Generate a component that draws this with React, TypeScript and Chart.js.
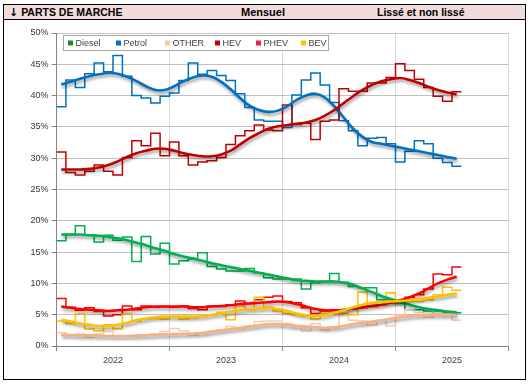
import React, { useEffect, useRef } from 'react';
import { Chart, registerables } from 'chart.js';

Chart.register(...registerables);

// ---- data (monthly, Jan 2022 .. Jul 2025) ----
const yearLabels = ['2022', '2023', '2024', '2025'];
const seriesNames = ['Diesel', 'Petrol', 'OTHER', 'HEV', 'PHEV', 'BEV'];

const dieselRaw = [16.8, 17.8, 19.2, 17.7, 16.6, 17.7, 16.9, 17.4, 13.5, 17.5, 14.7, 16.4, 13.1, 13.6, 13.9, 14.9, 12.7, 12.3, 12.0, 12.0, 12.4, 11.7, 10.9, 10.7, 10.7, 10.7, 9.1, 10.1, 10.3, 11.6, 10.2, 9.5, 9.3, 9.3, 7.4, 7.4, 6.9, 5.8, 5.8, 5.6, 5.6, 5.4, 5.3];
const dieselSmooth = [17.8, 17.8, 17.8, 17.7, 17.6, 17.4, 17.2, 16.9, 16.5, 16.1, 15.6, 15.2, 14.7, 14.3, 14.0, 13.6, 13.2, 12.9, 12.6, 12.3, 12.0, 11.7, 11.4, 11.1, 10.8, 10.5, 10.4, 10.3, 10.3, 10.3, 10.1, 9.8, 9.2, 8.6, 8.0, 7.5, 7.0, 6.6, 6.2, 5.9, 5.7, 5.5, 5.4];

const petrolRaw = [38.2, 42.5, 41.3, 43.5, 45.2, 43.8, 46.4, 43.1, 40.0, 39.6, 38.8, 39.9, 40.4, 42.4, 45.2, 43.4, 44.0, 43.2, 42.4, 40.3, 38.1, 36.1, 35.9, 35.9, 34.9, 40.1, 42.5, 43.6, 41.7, 38.9, 36.0, 34.4, 32.0, 33.2, 33.3, 32.3, 29.4, 31.1, 32.8, 32.3, 30.0, 29.3, 28.7];
const petrolSmooth = [41.8, 42.2, 42.7, 43.1, 43.4, 43.6, 43.5, 43.0, 42.3, 41.5, 40.9, 40.9, 41.5, 42.3, 42.9, 43.2, 43.0, 42.2, 41.0, 39.6, 38.4, 37.7, 37.4, 37.6, 38.3, 39.3, 40.0, 40.3, 39.7, 38.3, 36.5, 34.7, 33.4, 32.6, 32.3, 32.0, 31.7, 31.4, 31.1, 30.8, 30.5, 30.2, 29.9];

const otherRaw = [2.1, 1.8, 1.9, 1.4, 1.9, 2.3, 1.6, 1.6, 1.6, 1.8, 1.9, 2.3, 2.8, 2.4, 1.7, 2.0, 2.3, 2.6, 3.1, 2.8, 3.2, 3.9, 4.0, 4.0, 3.6, 3.3, 2.4, 3.6, 2.6, 2.9, 4.8, 4.1, 4.0, 3.3, 4.1, 3.2, 4.9, 5.8, 5.3, 4.6, 5.8, 5.1, 4.1];
const otherSmooth = [1.8, 1.75, 1.7, 1.7, 1.65, 1.6, 1.6, 1.6, 1.65, 1.7, 1.8, 1.85, 1.9, 1.95, 2.0, 2.1, 2.3, 2.5, 2.7, 2.9, 3.1, 3.3, 3.5, 3.5, 3.4, 3.2, 3.1, 3.0, 2.9, 3.0, 3.2, 3.5, 3.7, 3.9, 4.1, 4.4, 4.6, 4.8, 4.9, 5.0, 5.0, 5.0, 4.9];

const hevRaw = [31.0, 27.7, 27.3, 27.9, 28.9, 27.9, 27.3, 30.1, 32.8, 32.0, 34.0, 30.4, 32.6, 30.4, 28.9, 29.4, 29.6, 30.1, 32.2, 33.6, 34.4, 35.3, 34.5, 34.4, 38.5, 35.4, 35.6, 33.0, 35.9, 36.1, 41.1, 40.7, 40.7, 42.0, 42.0, 42.9, 45.1, 44.0, 42.6, 41.3, 39.9, 39.1, 40.6];
const hevSmooth = [28.2, 28.2, 28.2, 28.3, 28.5, 28.9, 29.5, 30.2, 30.8, 31.2, 31.5, 31.5, 31.2, 30.8, 30.5, 30.3, 30.3, 30.6, 31.2, 32.2, 33.2, 34.0, 34.7, 35.1, 35.3, 35.5, 35.7, 36.1, 36.8, 37.7, 38.8, 39.9, 40.9, 41.7, 42.3, 42.6, 42.8, 42.5, 42.0, 41.4, 40.9, 40.5, 40.2];

const phevRaw = [7.6, 6.2, 5.7, 6.1, 5.5, 4.8, 5.0, 6.4, 5.8, 6.4, 6.2, 6.3, 6.2, 6.4, 6.0, 5.8, 6.4, 6.3, 6.6, 7.2, 6.8, 7.4, 7.8, 8.0, 7.1, 6.9, 6.1, 5.2, 5.6, 5.8, 5.8, 5.9, 6.1, 6.2, 6.6, 6.9, 7.0, 7.8, 8.2, 9.1, 11.5, 11.4, 12.6];
const phevSmooth = [6.3, 6.1, 5.9, 5.8, 5.7, 5.6, 5.7, 5.8, 6.0, 6.2, 6.3, 6.3, 6.3, 6.3, 6.2, 6.2, 6.3, 6.4, 6.5, 6.7, 6.8, 6.9, 7.0, 7.1, 7.0, 6.7, 6.3, 5.9, 5.7, 5.7, 5.8, 6.0, 6.2, 6.4, 6.6, 6.9, 7.3, 7.8, 8.4, 9.2, 10.0, 10.6, 11.1];

const bevRaw = [4.0, 3.6, 5.1, 2.7, 2.4, 3.4, 2.7, 5.1, 4.0, 4.3, 4.4, 4.3, 4.7, 4.3, 4.5, 4.7, 4.9, 5.4, 4.2, 6.4, 5.8, 7.8, 6.2, 5.6, 5.2, 5.0, 4.8, 4.3, 5.2, 5.3, 5.2, 5.0, 8.6, 6.2, 7.0, 8.5, 7.1, 7.1, 7.1, 7.4, 8.2, 9.4, 8.9];
const bevSmooth = [4.2, 3.9, 3.6, 3.4, 3.2, 3.2, 3.4, 3.7, 4.1, 4.4, 4.6, 4.7, 4.7, 4.7, 4.7, 4.8, 5.0, 5.2, 5.5, 5.7, 5.9, 6.0, 6.1, 5.9, 5.6, 5.2, 4.9, 4.8, 4.9, 5.3, 5.7, 6.2, 6.6, 6.9, 7.0, 7.1, 7.2, 7.3, 7.5, 7.7, 7.9, 8.2, 8.4];

const rawSeries = [dieselRaw, petrolRaw, otherRaw, hevRaw, phevRaw, bevRaw];
const smoothSeries = [dieselSmooth, petrolSmooth, otherSmooth, hevSmooth, phevSmooth, bevSmooth];

// ---- styles ----
const stepColors = ['#00B050', '#0070C0', '#F8CBAD', '#C00000', '#FF0000', '#FFC000'];
const smoothColors = ['#00B050', '#0070C0', '#F4B183', '#C00000', '#FF0000', '#FFC000'];
const legendColors = ['#1E8B24', '#0070C0', '#FBC9A8', '#C00000', '#FF1A4B', '#FFC000'];
const legendX = [68, 116, 165, 215, 256, 301];
const FONT = '"Liberation Sans", Arial, sans-serif';

const stepPoints = (vals: number[]) => [
  ...vals.map((v, i) => ({ x: i, y: v })),
  { x: vals.length, y: vals[vals.length - 1] },
];
const smoothPoints = (vals: number[]) => vals.map((v, i) => ({ x: i + 0.5, y: v }));

const shadowPlugin = {
  id: 'smoothShadow',
  beforeDatasetDraw(chart: any, args: any) {
    const ds = chart.data.datasets[args.index];
    if (ds._smooth) {
      const ctx = chart.ctx;
      ctx.save();
      ctx.shadowColor = 'rgba(0,0,0,0.38)';
      ctx.shadowBlur = 3;
      ctx.shadowOffsetX = 1;
      ctx.shadowOffsetY = 2.5;
    }
  },
  afterDatasetDraw(chart: any, args: any) {
    const ds = chart.data.datasets[args.index];
    if (ds._smooth) chart.ctx.restore();
  },
};

const legendPlugin = {
  id: 'boxLegend',
  afterDraw(chart: any) {
    const ctx = chart.ctx;
    ctx.save();
    const bx = 63.5, by = 35.5, bw = 265, bh = 15;
    ctx.fillStyle = '#FFFFFF';
    ctx.fillRect(bx, by, bw, bh);
    ctx.strokeStyle = '#A6A6A6';
    ctx.lineWidth = 1;
    ctx.strokeRect(bx, by, bw, bh);
    ctx.font = `9px ${FONT}`;
    ctx.textBaseline = 'middle';
    ctx.textAlign = 'left';
    const cy = by + bh / 2;
    seriesNames.forEach((name, i) => {
      ctx.fillStyle = legendColors[i];
      ctx.fillRect(legendX[i], cy - 2.5, 5, 5);
      ctx.fillStyle = '#404040';
      ctx.fillText(name, legendX[i] + 7.5, cy + 0.5);
    });
    ctx.restore();
  },
};

function ChartCanvas() {
  const ref = useRef<HTMLCanvasElement | null>(null);
  useEffect(() => {
    if (!ref.current) return;
    const datasets: any[] = [];
    seriesNames.forEach((name, i) => {
      datasets.push({
        label: name + ' mensuel',
        data: stepPoints(rawSeries[i]),
        borderColor: stepColors[i],
        borderWidth: 1.5,
        stepped: 'before',
        pointRadius: 0,
        fill: false,
        order: 20 - i,
      });
    });
    seriesNames.forEach((name, i) => {
      datasets.push({
        label: name + ' lissé',
        data: smoothPoints(smoothSeries[i]),
        borderColor: smoothColors[i],
        borderWidth: 2.6,
        tension: 0.4,
        pointRadius: 0,
        fill: false,
        order: 10 - i,
        _smooth: true,
      });
    });

    const chart = new Chart(ref.current, {
      type: 'line',
      data: { datasets },
      plugins: [shadowPlugin, legendPlugin],
      options: {
        animation: false,
        responsive: false,
        maintainAspectRatio: false,
        layout: { padding: { left: 0, right: 22.5, top: 33, bottom: 0 } },
        plugins: { legend: { display: false }, tooltip: { enabled: false } },
        elements: { point: { radius: 0 }, line: { capBezierPoints: true } },
        scales: {
          x: {
            type: 'linear',
            min: 0,
            max: 48,
            afterFit: (s: any) => { s.height = 39; },
            ticks: {
              stepSize: 6,
              autoSkip: false,
              maxRotation: 0,
              padding: 4,
              color: '#404040',
              font: { size: 9, family: FONT },
              callback: (v: any) => (Number(v) % 12 === 6 ? yearLabels[(Number(v) - 6) / 12] : ''),
            },
            grid: {
              color: (c: any) => (c.tick && c.tick.value % 12 === 0 ? '#D9D9D9' : 'rgba(0,0,0,0)'),
              tickColor: (c: any) => (c.tick && c.tick.value % 12 === 0 ? '#868686' : 'rgba(0,0,0,0)'),
              tickLength: 5,
              lineWidth: 1,
            },
            border: { color: '#868686' },
          },
          y: {
            min: 0,
            max: 50,
            afterFit: (s: any) => { s.width = 56.5; },
            ticks: {
              stepSize: 5,
              padding: 3,
              color: '#333333',
              font: { size: 9, family: FONT },
              callback: (v: any) => `${v}%`,
            },
            grid: { color: '#C0C0C0', tickColor: '#868686', tickLength: 5, lineWidth: 1 },
            border: { color: '#868686' },
          },
        },
      } as any,
    });
    return () => chart.destroy();
  }, []);
  return (
    <canvas
      ref={ref}
      width={531}
      height={385}
      style={{ position: 'absolute', left: 0, top: 0, width: 531, height: 385 }}
    />
  );
}

export default function App() {
  const headText: React.CSSProperties = {
    position: 'absolute',
    top: 0,
    lineHeight: '14px',
    fontFamily: FONT,
    fontWeight: 'bold',
    color: '#000',
    whiteSpace: 'nowrap',
  };
  return (
    <div style={{ position: 'fixed', left: 0, top: 0, width: 531, height: 385, background: '#fff', overflow: 'hidden' }}>
      <ChartCanvas />
      <div
        style={{
          position: 'absolute',
          left: 3,
          top: 4,
          width: 523,
          height: 376,
          border: '1px solid #000',
          boxSizing: 'border-box',
          pointerEvents: 'none',
        }}
      >
        <div
          style={{
            position: 'absolute',
            left: 0,
            top: 0,
            right: 0,
            height: 14,
            background: '#F2DCDB',
            borderBottom: '1px solid #000',
          }}
        >
          <span style={{ ...headText, left: 5, fontSize: 10.5 }}>
            <span style={{ fontFamily: '"DejaVu Sans", sans-serif', fontSize: 11 }}>↓</span> PARTS DE MARCHE
          </span>
          <span style={{ ...headText, left: 237, fontSize: 11 }}>Mensuel</span>
          <span style={{ ...headText, left: 373, fontSize: 10.5 }}>Lissé et non lissé</span>
        </div>
      </div>
    </div>
  );
}
